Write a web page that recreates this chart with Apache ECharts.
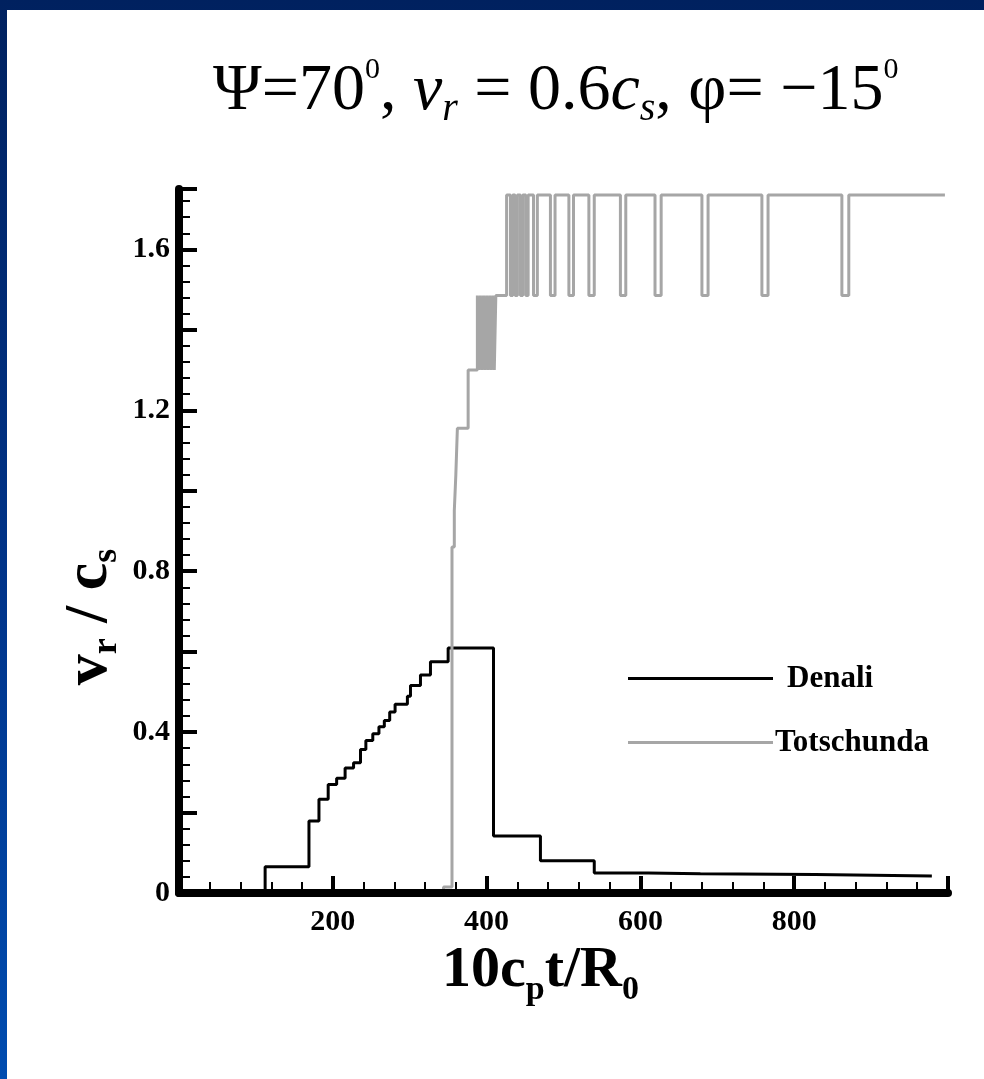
<!DOCTYPE html>
<html>
<head>
<meta charset="utf-8">
<script src="https://cdn.jsdelivr.net/npm/echarts@6/dist/echarts.min.js"></script>
<style>
html, body { margin: 0; padding: 0; }
body { width: 984px; height: 1079px; position: relative; overflow: hidden;
       background: linear-gradient(to bottom, #00215f 0%, #00348a 55%, #004cb0 100%); }
#panel { position: absolute; left: 7px; top: 10px; right: 0; bottom: 0; background: #fff; }
#chart { position: absolute; left: 0; top: 0; width: 984px; height: 1079px; }
</style>
</head>
<body>
<div id="panel"></div>
<div id="chart"></div>
<script>
// step data: value holds from t until the next t
var denaliT = [0, 112, 169, 182, 194, 205, 216, 227, 236, 243, 252, 260, 267, 274, 281, 297, 301, 314, 327, 350, 409, 470, 540, 610, 678, 827, 903, 979];
var denaliV = [0, 0.065, 0.179, 0.233, 0.270, 0.285, 0.311, 0.324, 0.357, 0.379, 0.396, 0.413, 0.429, 0.450, 0.469, 0.489, 0.516, 0.542, 0.575, 0.609, 0.142, 0.080, 0.050, 0.048, 0.046, 0.044, 0.042, 0.042];

var totT = [0, 344, 355, 358, 360, 362, 376, 388, 390, 392, 394, 396, 398, 400, 402, 404, 406, 408, 410, 412,
            426, 431, 434, 437, 440, 444, 447, 451, 454, 461, 466, 483, 489, 507, 513, 533, 540, 574, 581,
            619, 627, 680, 688, 758, 766, 862, 871, 996];
var totV = [0, 0.015, 0.86, 0.95, 1.04, 1.155, 1.30, 1.485, 1.30, 1.485, 1.30, 1.485, 1.30, 1.485, 1.30, 1.485, 1.30, 1.485, 1.30, 1.485,
            1.735, 1.485, 1.735, 1.485, 1.735, 1.485, 1.735, 1.485, 1.735, 1.485, 1.735, 1.485, 1.735, 1.485, 1.735, 1.485, 1.735, 1.485, 1.735,
            1.485, 1.735, 1.485, 1.735, 1.485, 1.735, 1.485, 1.735, 1.735];

var seriesNames = ['Denali', 'Totschunda'];
var xLabels = [200, 400, 600, 800];
var yLabels = ['0', '0.4', '0.8', '1.2', '1.6'];

function pairs(t, v) {
	var out = [];
	for (var i = 0; i < t.length; i++) {
		out.push([t[i], v[i]]);
	}
	return out;
}

var serif = '"Liberation Serif", "DejaVu Serif", serif';
var chart = echarts.init(document.getElementById('chart'));

var option = {
	backgroundColor: 'transparent',
	animation: false,
	title: {
		left: 208,
		top: 50,
		text: '{t|Ψ=70}{sup|0}{t|, }{i|v}{isub|r}{t| = 0.6}{i|c}{isub|s}{t|, φ= −15}{sup|0}',
		textStyle: {
			fontWeight: 'normal',
			rich: {
				t: { fontFamily: serif, fontWeight: 'normal', fontSize: 66, lineHeight: 74, color: '#000' },
				i: { fontFamily: serif, fontWeight: 'normal', fontSize: 66, lineHeight: 74, fontStyle: 'italic', color: '#000' },
				sup: { fontFamily: serif, fontWeight: 'normal', fontSize: 30, lineHeight: 34, verticalAlign: 'top', color: '#000' },
				isub: { fontFamily: serif, fontWeight: 'normal', fontSize: 40, lineHeight: 40, fontStyle: 'italic', verticalAlign: 'bottom', color: '#000' }
			}
		}
	},
	legend: {
		orient: 'vertical',
		left: 628,
		top: 663,
		padding: 0,
		icon: 'rect',
		itemWidth: 145,
		itemHeight: 3,
		itemGap: 33,
		data: seriesNames,
		formatter: function (name) {
			return name === 'Denali' ? '{d|' + name + '}' : '{t|' + name + '}';
		},
		textStyle: {
			fontFamily: serif, fontWeight: 'bold', fontSize: 31, color: '#000',
			rich: {
				d: { fontFamily: serif, fontWeight: 'bold', fontSize: 31, lineHeight: 32, color: '#000', padding: [0, 0, 0, 9] },
				t: { fontFamily: serif, fontWeight: 'bold', fontSize: 31, lineHeight: 32, color: '#000', padding: [0, 0, 0, -3] }
			}
		}
	},
	grid: { left: 179, right: 36, top: 189, bottom: 186 },
	xAxis: {
		type: 'value',
		min: 0,
		max: 1000,
		interval: 200,
		z: 10,
		splitLine: { show: false },
		axisLine: { lineStyle: { color: '#000', width: 8 } },
		axisTick: { inside: true, length: 17, lineStyle: { color: '#000', width: 4 } },
		minorTick: { show: true, splitNumber: 5, length: 11, lineStyle: { color: '#000', width: 2 } },
		axisLabel: {
			margin: 14,
			fontFamily: serif, fontWeight: 'bold', fontSize: 30, color: '#000',
			formatter: function (v) {
				return xLabels.indexOf(v) >= 0 ? String(v) : '';
			}
		},
		name: '{a|10c}{s|p}{a|t/R}{e|0}',
		nameLocation: 'middle',
		nameGap: 34,
		nameTextStyle: {
			rich: {
				a: { fontFamily: serif, fontWeight: 'bold', fontSize: 58, lineHeight: 72, color: '#000' },
				s: { fontFamily: serif, fontWeight: 'bold', fontSize: 34, lineHeight: 34, verticalAlign: 'bottom', color: '#000' },
				e: { fontFamily: serif, fontWeight: 'bold', fontSize: 34, lineHeight: 34, verticalAlign: 'bottom', color: '#000', padding: [0, 46, 0, 0] }
			}
		}
	},
	yAxis: {
		type: 'value',
		min: 0,
		max: 1.75,
		interval: 0.2,
		z: 10,
		splitLine: { show: false },
		axisLine: { lineStyle: { color: '#000', width: 8 } },
		axisTick: { inside: true, length: 18, lineStyle: { color: '#000', width: 4 } },
		minorTick: { show: true, splitNumber: 5, length: 11, lineStyle: { color: '#000', width: 2 } },
		axisLabel: {
			margin: 9,
			fontFamily: serif, fontWeight: 'bold', fontSize: 30, color: '#000',
			formatter: function (v) {
				var s = String(Math.round(v * 10) / 10);
				return (Math.abs(v * 10 - Math.round(v * 10)) < 1e-6 && yLabels.indexOf(s) >= 0) ? s : '';
			}
		}
	},
	graphic: [{
		type: 'text',
		x: 90,
		y: 617,
		rotation: Math.PI / 2,
		style: {
			text: '{a|v}{s|r}{a| / c}{s|s}',
			align: 'center',
			verticalAlign: 'middle',
			rich: {
				a: { fontFamily: serif, fontWeight: 'bold', fontSize: 62, lineHeight: 70, fill: '#000' },
				s: { fontFamily: serif, fontWeight: 'bold', fontSize: 36, lineHeight: 36, verticalAlign: 'bottom', fill: '#000' }
			}
		}
	}],
	series: [
		{
			name: seriesNames[0],
			type: 'line',
			step: 'end',
			symbol: 'none',
			data: pairs(denaliT, denaliV),
			lineStyle: { color: '#000', width: 3 },
			itemStyle: { color: '#000' }
		},
		{
			name: seriesNames[1],
			type: 'line',
			step: 'end',
			symbol: 'none',
			data: pairs(totT, totV),
			lineStyle: { color: '#a6a6a6', width: 3 },
			itemStyle: { color: '#a6a6a6' }
		}
	]
};

chart.setOption(option);
</script>
</body>
</html>
